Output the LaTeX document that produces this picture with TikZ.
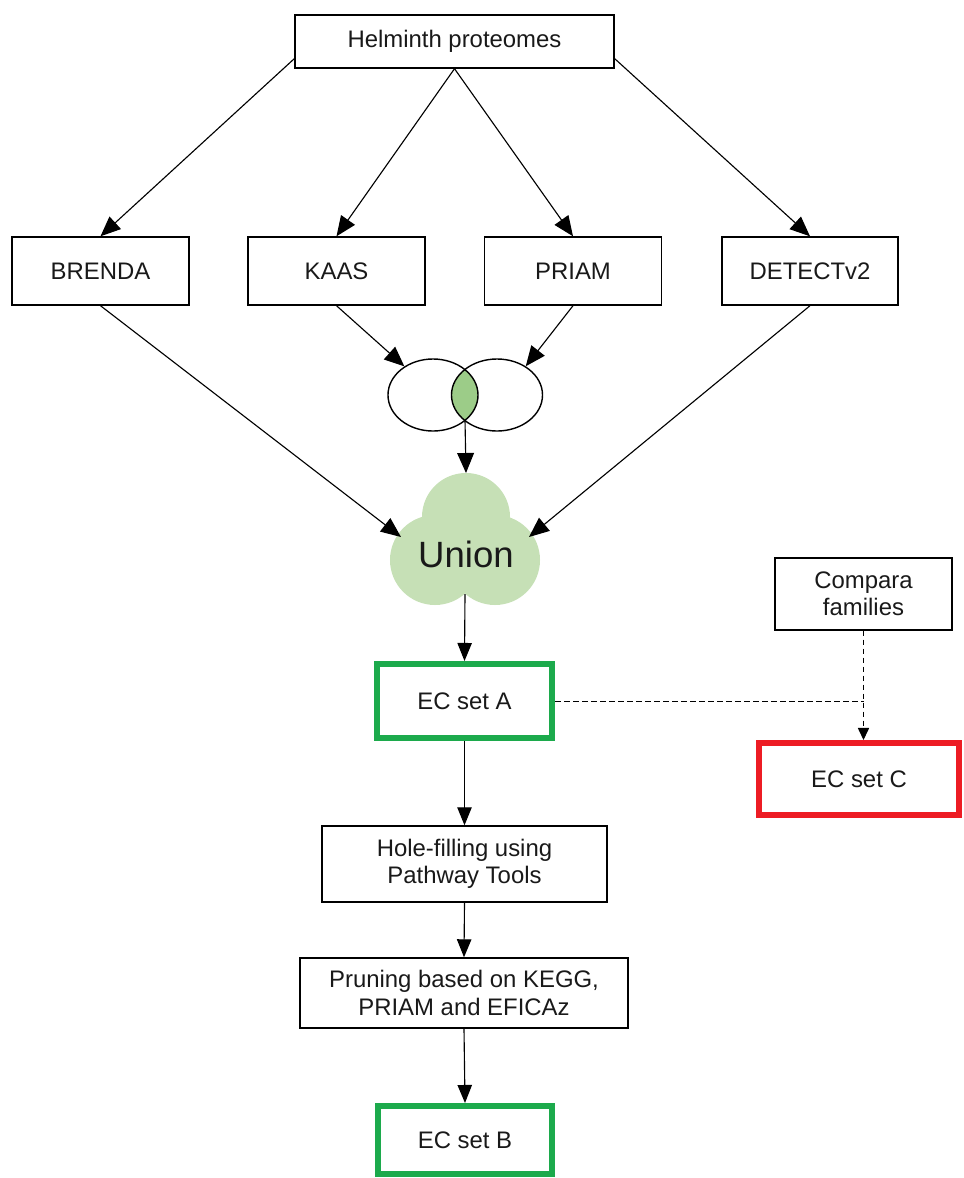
\documentclass[tikz,border=0pt]{standalone}
\usepackage{fontspec}
\setmainfont{Liberation Sans}
\usetikzlibrary{arrows.meta,shapes.geometric}
\definecolor{setgreen}{RGB}{28,170,76}
\definecolor{setred}{RGB}{237,28,36}
\definecolor{cloudgreen}{RGB}{198,224,182}
\definecolor{lensgreen}{RGB}{156,204,136}
\begin{document}
\begin{tikzpicture}[x=0.025cm,y=-0.025cm,
    txt/.style={font=\fontsize{17}{19.5}\selectfont, text=black!90, align=center},
    box/.style={txt, draw, line width=1pt, inner sep=0pt},
    ecbox/.style={txt, draw, line width=4.3pt, inner sep=0pt},
    arr/.style={-{Triangle[length=0.45cm,width=0.36cm]}, line width=0.8pt},
    bigarr/.style={-{Triangle[length=0.5cm,width=0.42cm]}, line width=0.8pt},
    dasharr/.style={dash pattern=on 4pt off 2.4pt, line width=0.7pt}]
  \useasboundingbox (0,0) rectangle (964,1178);

  % top and the four tools
  \node[box, minimum width=7.975cm, minimum height=1.325cm] (helm) at (454.5,41.5) {Helminth proteomes};
  \node[box, minimum width=4.425cm, minimum height=1.7cm] (brenda) at (100.5,271) {BRENDA};
  \node[box, minimum width=4.425cm, minimum height=1.7cm] (kaas) at (336.5,271) {KAAS};
  \node[box, minimum width=4.425cm, minimum height=1.7cm] (priam) at (573,271) {PRIAM};
  \node[box, minimum width=4.4cm, minimum height=1.7cm] (detect) at (810,271) {DETECTv2};

  \draw[bigarr] ([yshift=0.25cm]helm.south west) -- (brenda.north);
  \draw[bigarr] (helm.south) -- (kaas.north);
  \draw[bigarr] (helm.south) -- (priam.north);
  \draw[bigarr] ([yshift=0.25cm]helm.south east) -- (detect.north);

  % intersection of KAAS and PRIAM
  \begin{scope}
    \clip (433,395) ellipse [x radius=1.125cm, y radius=0.9cm];
    \fill[lensgreen] (497,395) ellipse [x radius=1.1375cm, y radius=0.9cm];
  \end{scope}
  \node[ellipse, draw, line width=1pt, inner sep=0pt, minimum width=2.25cm, minimum height=1.8cm] (vennL) at (433,395) {};
  \node[ellipse, draw, line width=1pt, inner sep=0pt, minimum width=2.275cm, minimum height=1.8cm] (vennR) at (497,395) {};
  \coordinate (lens) at (465,420);

  \draw[bigarr] (kaas.south) -- (vennL.135);
  \draw[bigarr] (priam.south) -- (vennR.45);

  % union cloud
  \fill[cloudgreen] (466,517) circle[radius=1.1cm] (435,560) circle[radius=1.125cm] (495,560) circle[radius=1.125cm];
  \node[font=\fontsize{26}{30}\selectfont, text=black!90] (union) at (466,554) {Union};
  \coordinate (cloudtop) at (466,473);
  \coordinate (cloudL) at (401,537);
  \coordinate (cloudR) at (529,537);
  \coordinate (cloudbot) at (465,594);

  \draw[bigarr] (lens) -- (cloudtop);
  \draw[bigarr] (brenda.south) -- (cloudL);
  \draw[bigarr] (detect.south) -- (cloudR);

  % EC sets
  \node[ecbox, draw=setgreen, minimum width=4.375cm, minimum height=1.85cm] (ecA) at (464.5,701) {EC set A};
  \node[box, minimum width=4.425cm, minimum height=1.8cm] (compara) at (863.5,594) {Compara\\families};
  \node[ecbox, draw=setred, minimum width=5cm, minimum height=1.8cm] (ecC) at (859,779) {EC set C};
  \node[box, minimum width=7.125cm, minimum height=1.9cm] (hole) at (464.5,864) {Hole-filling using\\Pathway Tools};
  \node[box, minimum width=8.2cm, minimum height=1.75cm] (prune) at (464,993) {Pruning based on KEGG,\\PRIAM and EFICAz};
  \node[ecbox, draw=setgreen, minimum width=4.35cm, minimum height=1.7cm] (ecB) at (465,1140) {EC set B};

  \draw[arr] (cloudbot) -- (ecA.north);
  \draw[arr] (ecA.south) -- (hole.north);
  \draw[arr] (hole.south) -- (prune.north);
  \draw[arr] (prune.south) -- (ecB.north);

  \draw[dasharr] (ecA.east) -- (ecA.east -| compara.south);
  \draw[dasharr, -{Triangle[length=0.3cm,width=0.28cm]}] (compara.south) -- (compara.south |- ecC.north);
\end{tikzpicture}
\end{document}
